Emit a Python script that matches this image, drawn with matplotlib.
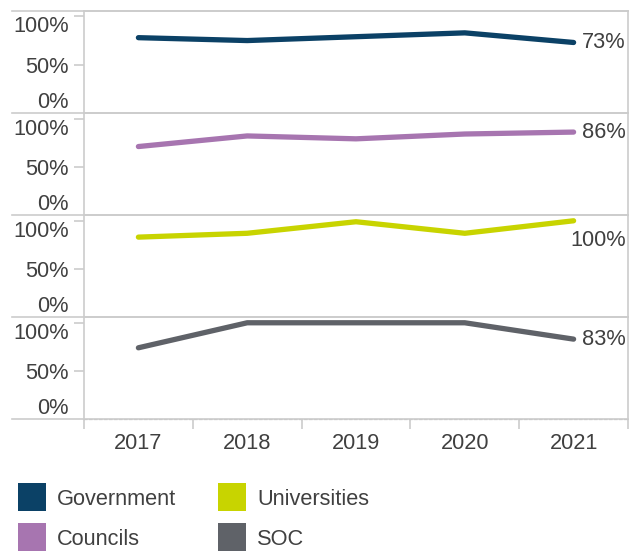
import matplotlib
matplotlib.use("Agg")
import matplotlib.pyplot as plt
from matplotlib.patches import Rectangle
from matplotlib.lines import Line2D

plt.rcParams['font.family'] = ['Liberation Sans', 'DejaVu Sans']

# yearly shares per sector (%)
years = ['2017', '2018', '2019', '2020', '2021']
sectors = ['Government', 'Councils', 'Universities', 'SOC']
government = [78, 75, 79, 83, 73]
councils = [71, 82, 79, 84, 86]
universities = [83, 87, 99, 87, 100]
soc = [74, 100, 100, 100, 83]
colors = ['#0b4166', '#a775b0', '#c8d400', '#5f6268']

series = [government, councils, universities, soc]
text_col = '#404040'
grid_col = '#cccccc'
fs = 15.7

W, H = 635, 551
fig = plt.figure(figsize=(W / 100, H / 100), dpi=100)

# panel edges in pixels (top to bottom)
edges = [10.7, 112.8, 215, 317, 419]
left_px, right_px = 84, 628

for i, vals in enumerate(series):
    top, bot = edges[i], edges[i + 1]
    ax = fig.add_axes([left_px / W, 1 - bot / H, (right_px - left_px) / W, (bot - top) / H])
    x = list(range(len(years)))
    ax.plot(x, vals, color=colors[i], lw=3.8, solid_capstyle='round', solid_joinstyle='round')
    ax.set_xlim(-0.5, len(years) - 0.5)
    ax.set_ylim(0, 106)

    for s in ['left', 'right', 'top']:
        ax.spines[s].set_color(grid_col)
        ax.spines[s].set_linewidth(1.2)
    ax.spines['bottom'].set_color('#bbbbbb')
    ax.spines['bottom'].set_linestyle((0, (2, 2)))
    ax.spines['bottom'].set_linewidth(0.9)

    ax.set_yticks([0, 50, 100])
    ax.set_yticklabels(['0%', '50%', '100%'])
    ax.tick_params(axis='y', length=7, width=1.2, color=grid_col, pad=4,
                   labelsize=fs, labelcolor=text_col)
    ax.yaxis.get_major_ticks()[0].tick1line.set_visible(False)
    ax.get_yticklabels()[0].set_va('bottom')
    ax.get_yticklabels()[2].set_va('top')

    # value label at the last year
    last = vals[-1]
    if last >= 100:
        off = (-2, -14)
    else:
        off = (6, 0)
    ax.annotate(f'{last}%', (x[-1], last), xytext=off, textcoords='offset points',
                ha='left', va='center', fontsize=fs, color=text_col, annotation_clip=False)

    if i < len(series) - 1:
        ax.set_xticks([])
    else:
        ax.set_xticks([k - 0.5 for k in range(len(years) + 1)])
        ax.set_xticklabels([])
        ax.set_xticks(x, minor=True)
        ax.set_xticklabels(years, minor=True)
        ax.tick_params(axis='x', which='major', length=7, width=1.2, color=grid_col)
        ax.tick_params(axis='x', which='minor', length=0, pad=10, labelsize=fs, labelcolor=text_col)

# separator rules running under the tick labels
for y in edges:
    fig.add_artist(Line2D([12 / W, right_px / W], [1 - y / H, 1 - y / H],
                          color=grid_col, lw=1.2, transform=fig.transFigure))

# legend: two columns of colour swatches
sw = 28
for k, (name, c) in enumerate(zip(sectors, colors)):
    col, row = divmod(k, 2)
    x0 = 18 + col * 200
    y0 = 483 + row * 40
    fig.add_artist(Rectangle((x0 / W, 1 - (y0 + sw) / H), sw / W, sw / H,
                             facecolor=c, edgecolor='none', transform=fig.transFigure))
    fig.text((x0 + sw + 11) / W, 1 - (y0 + sw / 2) / H, name, ha='left', va='center_baseline',
             fontsize=fs, color=text_col)

fig.savefig('out.png', dpi=100)
